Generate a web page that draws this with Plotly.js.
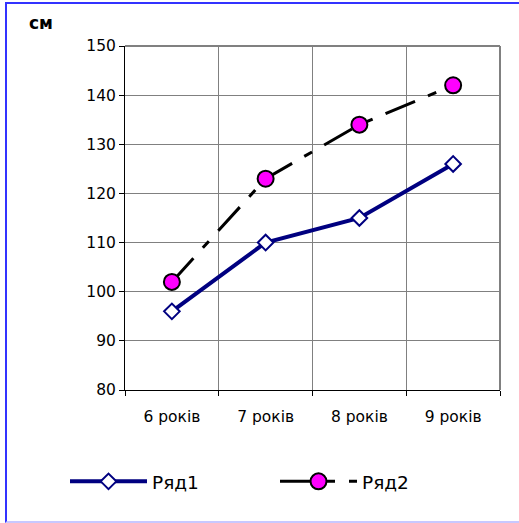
<!DOCTYPE html>
<html>
<head>
<meta charset="utf-8">
<script src="https://cdn.plot.ly/plotly-3.0.1.min.js"></script>
<style>
  html, body { margin: 0; padding: 0; background: #ffffff; }
  #wrap { position: relative; width: 519px; height: 523px; overflow: hidden; }
  #chart { position: absolute; left: 0; top: 0; width: 519px; height: 523px; }
  #frame { position: absolute; left: 5px; top: 2px; width: 520px; height: 521px;
           border-left: 2px solid #3333ff; border-top: 2px solid #3333ff;
           border-bottom: 2px solid #c8c8ff; box-sizing: border-box; pointer-events: none; }
</style>
</head>
<body>
<div id="wrap">
  <div id="chart"></div>
  <div id="frame"></div>
</div>
<script>
const categories = ["6 років", "7 років", "8 років", "9 років"];
const series1Name = "Ряд1";
const series1 = [96, 110, 115, 126];
const series2Name = "Ряд2";
const series2 = [102, 123, 134, 142];
const yTicks = [80, 90, 100, 110, 120, 130, 140, 150];
const unitLabel = "см";

const traces = [
  {
    x: categories, y: series1, name: series1Name, type: "scatter", mode: "lines+markers",
    line: { color: "#000080", width: 4 },
    marker: { symbol: "diamond", size: 12, color: "#ffffff", line: { color: "#000080", width: 2 } }
  },
  {
    x: categories, y: series2, name: series2Name, type: "scatter", mode: "lines+markers",
    line: { color: "#000000", width: 3, dash: "32px,14px,9px,14px" },
    marker: { symbol: "circle", size: 16, color: "#ff00ff", line: { color: "#000000", width: 2 } }
  }
];

const layout = {
  width: 519, height: 523,
  margin: { l: 125, r: 19, t: 46, b: 133 },
  paper_bgcolor: "#ffffff", plot_bgcolor: "#ffffff",
  font: { family: "DejaVu Sans, sans-serif", size: 15.5, color: "#000000" },
  showlegend: true,
  legend: {
    orientation: "h", x: -0.16, xanchor: "left", y: -0.267, yanchor: "middle",
    itemwidth: 77, entrywidth: 118, font: { size: 18.5 }, bgcolor: "rgba(0,0,0,0)"
  },
  xaxis: {
    type: "category", range: [-0.5, 3.5], tickson: "boundaries",
    showgrid: true, gridcolor: "#808080", gridwidth: 1,
    showline: true, linecolor: "#000000", linewidth: 1, mirror: false,
    ticks: "outside", ticklen: 5, tickcolor: "#000000", ticklabelstandoff: 12,
    tickfont: { size: 15.5 }, zeroline: false, fixedrange: true
  },
  yaxis: {
    range: [80, 150], tickvals: yTicks, ticktext: yTicks.map(String),
    showgrid: true, gridcolor: "#808080", gridwidth: 1,
    showline: true, linecolor: "#000000", linewidth: 1,
    ticks: "outside", ticklen: 5, tickcolor: "#000000",
    tickfont: { size: 15.5 }, zeroline: false, fixedrange: true
  },
  shapes: [
    { type: "line", xref: "paper", yref: "paper", x0: 1, x1: 1, y0: 0, y1: 1, line: { color: "#808080", width: 2 } },
    { type: "line", xref: "paper", yref: "paper", x0: 0, x1: 1, y0: 1, y1: 1, line: { color: "#808080", width: 2 } }
  ],
  annotations: [
    { text: "<b>" + unitLabel + "</b>", xref: "paper", yref: "paper", x: -0.261, y: 1.067,
      xanchor: "left", yanchor: "middle", showarrow: false, font: { size: 17 } }
  ]
};

Plotly.newPlot("chart", traces, layout, { displayModeBar: false, staticPlot: true });
</script>
</body>
</html>
